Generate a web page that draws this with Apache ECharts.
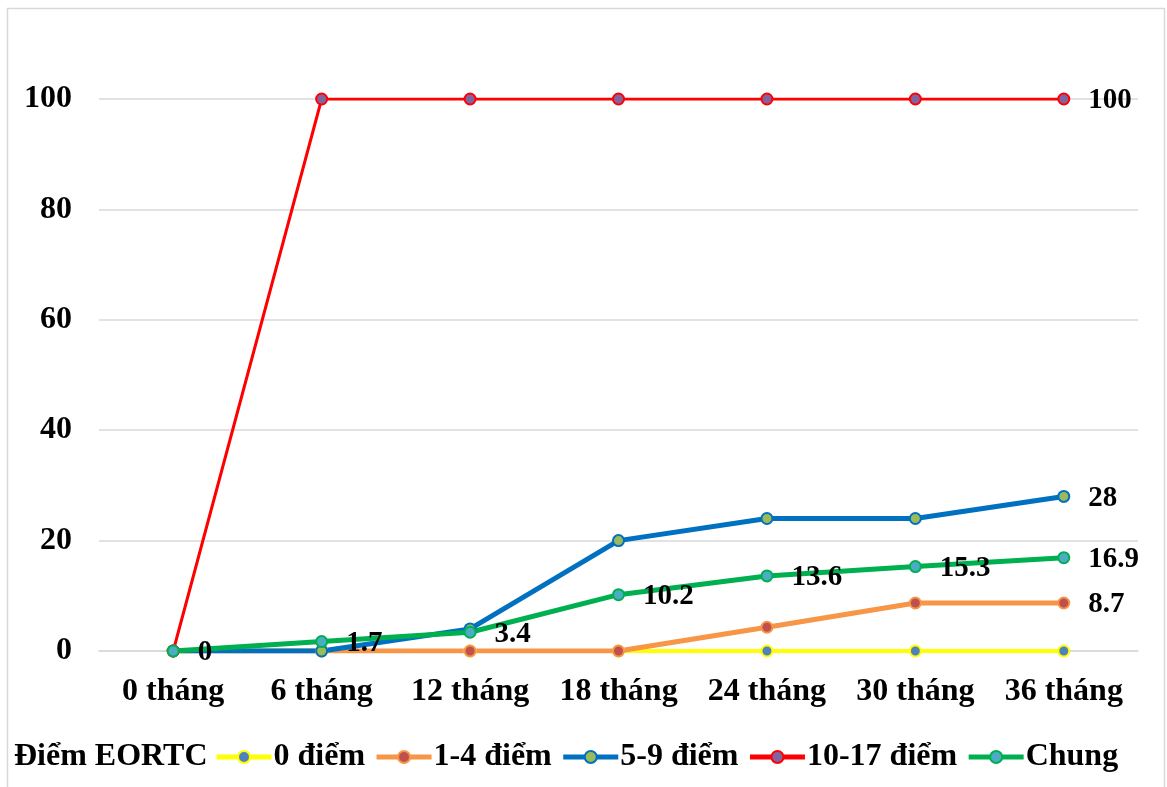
<!DOCTYPE html>
<html>
<head>
<meta charset="utf-8">
<script src="https://cdn.jsdelivr.net/npm/echarts@6/dist/echarts.min.js"></script>
<style>
  html, body { margin: 0; padding: 0; background: #fff; }
  #chart { width: 1167px; height: 787px; }
</style>
</head>
<body>
<div id="chart"></div>
<script>
// Time points (months of follow-up)
const categories = ['0 tháng', '6 tháng', '12 tháng', '18 tháng', '24 tháng', '30 tháng', '36 tháng'];

// Cumulative percentage per EORTC score group
const diem0 = [0, 0, 0, 0, 0, 0, 0];
const diem1_4 = [0, 0, 0, 0, 4.3, 8.7, 8.7];
const diem5_9 = [0, 0, 4, 20, 24, 24, 28];
const diem10_17 = [0, 100, 100, 100, 100, 100, 100];
const chung = [0, 1.7, 3.4, 10.2, 13.6, 15.3, 16.9];

const seriesNames = ['0 điểm', '1-4 điểm', '5-9 điểm', '10-17 điểm', 'Chung'];
const yTicks = [0, 20, 40, 60, 80, 100];

const FONT = '"Times New Roman", "Liberation Serif", serif';

const labelStyle = {
  show: true,
  position: 'right',
  distance: 18,
  offset: [0, 2],
  color: '#000',
  fontFamily: FONT,
  fontWeight: 'bold',
  fontSize: 29,
  formatter: p => String(p.value)
};

// Labels: every point, last point only, or none
function points(values, mode) {
  return values.map((v, i) => {
    const show = mode === 'all' || (mode === 'last' && i === values.length - 1);
    return { value: v, label: show ? labelStyle : { show: false } };
  });
}

const styles = [
  { line: '#FFFF00', fill: '#4F81BD', width: 4, labels: 'none' },
  { line: '#F79646', fill: '#C0504D', width: 5, labels: 'last' },
  { line: '#0070C0', fill: '#9BBB59', width: 5, labels: 'last' },
  { line: '#FF0000', fill: '#8064A2', width: 3, labels: 'last' },
  { line: '#00B050', fill: '#4BACC6', width: 5, labels: 'all' }
];
const seriesValues = [diem0, diem1_4, diem5_9, diem10_17, chung];

const series = seriesNames.map((name, k) => ({
  name: name,
  type: 'line',
  data: points(seriesValues[k], styles[k].labels),
  symbol: 'circle',
  symbolSize: 11,
  lineStyle: { color: styles[k].line, width: styles[k].width },
  itemStyle: { color: styles[k].fill, borderColor: styles[k].line, borderWidth: 2 },
  emphasis: { disabled: true },
  animation: false
}));

const legendData = seriesNames.map((name, k) => ({
  name: name,
  lineStyle: { color: styles[k].line, width: 5 },
  itemStyle: { color: styles[k].fill, borderColor: styles[k].line, borderWidth: 2 }
}));

const chart = echarts.init(document.getElementById('chart'));
chart.setOption({
  backgroundColor: '#fff',
  animation: false,
  graphic: [
    {
      type: 'rect',
      shape: { x: 7.5, y: 8.5, width: 1157, height: 800 },
      style: { fill: 'none', stroke: '#D9D9D9', lineWidth: 1.5 },
      silent: true
    },
    {
      type: 'text',
      left: 14,
      top: 741,
      style: {
        text: 'Điểm EORTC',
        fill: '#000',
        font: 'bold 32px ' + FONT
      }
    }
  ],
  grid: { left: 99, right: 29, top: 99, bottom: 136 },
  xAxis: {
    type: 'category',
    data: categories,
    boundaryGap: true,
    axisLine: { lineStyle: { color: '#D9D9D9', width: 1.5 } },
    axisTick: { show: false },
    axisLabel: {
      interval: 0,
      margin: 25,
      color: '#000',
      fontFamily: FONT,
      fontWeight: 'bold',
      fontSize: 32
    }
  },
  yAxis: {
    type: 'value',
    min: yTicks[0],
    max: yTicks[yTicks.length - 1],
    interval: yTicks[1] - yTicks[0],
    axisLine: { show: false },
    axisTick: { show: false },
    splitLine: { lineStyle: { color: '#D9D9D9', width: 1.5 } },
    axisLabel: {
      margin: 27,
      color: '#000',
      fontFamily: FONT,
      fontWeight: 'bold',
      fontSize: 32
    }
  },
  legend: {
    data: legendData,
    left: 214,
    top: 741,
    padding: 0,
    itemWidth: 55,
    itemHeight: 15,
    itemGap: 9,
    selectedMode: false,
    textStyle: {
      color: '#000',
      fontFamily: FONT,
      fontWeight: 'bold',
      fontSize: 32,
      padding: [0, 0, 0, -3]
    }
  },
  series: series
});
</script>
</body>
</html>
